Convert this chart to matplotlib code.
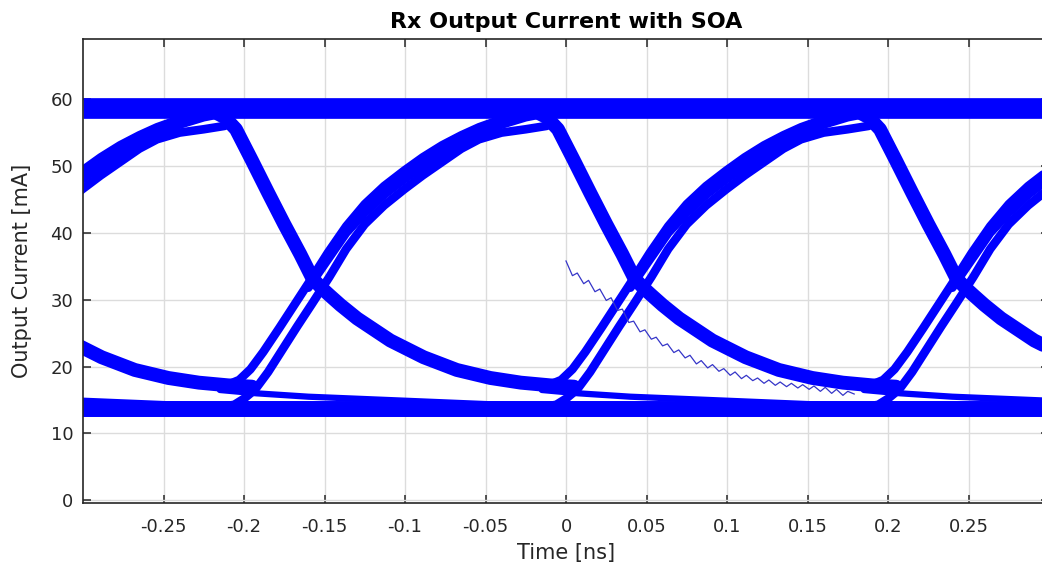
import numpy as np
import matplotlib
matplotlib.use("Agg")
import matplotlib.pyplot as plt

# eye diagram, one bit period (frame: crossing near 0.043 ns)
period_offsets = [-0.4, -0.2, 0.0, 0.2, 0.4]

top_level = 58.65
bottom_level = 13.65

# falling edge: top rail -> crossing -> slow tail
fall_t = [-0.035, -0.020, -0.012, -0.005, 0.005, 0.015, 0.025, 0.035, 0.0425,
          0.048, 0.053, 0.060, 0.0703, 0.0909, 0.1116, 0.1322, 0.153, 0.172, 0.190, 0.205]
fall_y = [58.6, 58.3, 57.3, 55.5, 50.8, 46.0, 41.3, 36.8, 33.2,
          31.8, 30.7, 29.2, 27.2, 23.9, 21.4, 19.5, 18.3, 17.6, 17.2, 17.0]

# tail that keeps decaying into the zero rail (two zeros in a row)
decay_t = [-0.015, 0.008, 0.040, 0.070, 0.100, 0.130, 0.160, 0.200]
decay_y = [16.5, 16.0, 15.5, 15.2, 14.9, 14.6, 14.3, 14.0]

# rising edge starting from the partly decayed tail
riseA_t = [-0.028, -0.020, -0.010, -0.003, 0.004, 0.012, 0.022, 0.032, 0.042, 0.052,
           0.0635, 0.075, 0.087, 0.0994, 0.111, 0.123, 0.135, 0.146, 0.160, 0.175, 0.190]
riseA_y = [17.6, 17.3, 17.3, 18.0, 19.6, 22.2, 25.8, 29.5, 33.2, 37.0,
           41.0, 44.3, 47.0, 49.3, 51.3, 53.1, 54.6, 55.8, 57.0, 57.9, 58.4]

# middle of the rising bundle above the crossing
riseM_t = [0.040, 0.050, 0.0635, 0.075, 0.087, 0.0994, 0.111, 0.123, 0.135, 0.146, 0.160, 0.175, 0.190]
riseM_y = [31.8, 35.3, 40.0, 43.0, 45.7, 48.0, 50.0, 51.8, 53.4, 54.8, 56.2, 57.3, 58.0]

# rising edge starting from the zero rail
riseB_t = [-0.030, -0.015, -0.006, 0.000, 0.007, 0.015, 0.024, 0.033, 0.042, 0.053,
           0.0635, 0.075, 0.087, 0.0994, 0.111, 0.123, 0.135, 0.146, 0.160, 0.175, 0.188]
riseB_y = [13.7, 13.9, 14.3, 15.2, 16.6, 19.2, 22.6, 26.0, 29.3, 33.4,
           37.6, 41.3, 44.1, 46.5, 48.6, 50.6, 52.6, 54.0, 55.0, 55.5, 56.0]

# the single thin wiggly trace
wiggle_t = [0.000, 0.004, 0.007, 0.011, 0.014, 0.018, 0.021, 0.025, 0.028, 0.032,
            0.035, 0.039, 0.042, 0.046, 0.049, 0.053, 0.056, 0.060, 0.063, 0.067,
            0.070, 0.074, 0.077, 0.081, 0.084, 0.088, 0.091, 0.095, 0.098, 0.102,
            0.105, 0.109, 0.112, 0.116, 0.119, 0.123, 0.126, 0.130, 0.133, 0.137,
            0.140, 0.144, 0.147, 0.151, 0.154, 0.158, 0.161, 0.165, 0.168, 0.172,
            0.175, 0.179]
wiggle_y = [35.8, 33.6, 34.0, 32.4, 32.9, 31.2, 31.6, 29.9, 30.3, 28.4,
            28.6, 26.6, 26.8, 25.2, 25.5, 24.1, 24.4, 23.1, 23.4, 22.1,
            22.5, 21.3, 21.7, 20.4, 20.9, 19.8, 20.3, 19.3, 19.7, 18.7,
            19.2, 18.2, 18.7, 17.9, 18.3, 17.5, 18.0, 17.2, 17.7, 17.0,
            17.5, 16.8, 17.3, 16.6, 17.1, 16.3, 16.9, 16.0, 16.6, 15.7,
            16.3, 15.9]

xticks = [-0.25, -0.2, -0.15, -0.1, -0.05, 0, 0.05, 0.1, 0.15, 0.2, 0.25]
xticklabels = ["-0.25", "-0.2", "-0.15", "-0.1", "-0.05", "0", "0.05", "0.1", "0.15", "0.2", "0.25"]
yticks = [0, 10, 20, 30, 40, 50, 60]

blue = "#0000ff"
dark = "#262626"

plt.rcParams["axes.unicode_minus"] = False
plt.rcParams["font.family"] = ["DejaVu Sans"]

fig = plt.figure(figsize=(10.42, 5.71), dpi=100)
ax = fig.add_axes([83 / 1042, 68 / 571, 966 / 1042, 464 / 571])

ax.axhline(top_level, color=blue, lw=14.9, solid_capstyle="butt", zorder=2)
ax.axhline(bottom_level, color=blue, lw=11.5, solid_capstyle="butt", zorder=2)

line_kw = dict(color=blue, solid_joinstyle="round", solid_capstyle="round", zorder=2)
for k in period_offsets:
    ax.plot(np.asarray(fall_t) + k, fall_y, lw=10, **line_kw)
    ax.plot(np.asarray(decay_t) + k, decay_y, lw=4.5, **line_kw)
    ax.plot(np.asarray(riseA_t) + k, riseA_y, lw=6.2, **line_kw)
    ax.plot(np.asarray(riseM_t) + k, riseM_y, lw=6.2, **line_kw)
    ax.plot(np.asarray(riseB_t) + k, riseB_y, lw=6.2, **line_kw)

ax.plot(wiggle_t, wiggle_y, color="#3535c8", lw=0.9, zorder=3)

ax.set_xlim(-0.3, 0.3)
ax.set_ylim(-0.4, 69)
ax.set_xticks(xticks)
ax.set_xticklabels(xticklabels)
ax.set_yticks(yticks)

ax.grid(True, color="#dcdcdc", lw=1.0)
ax.set_axisbelow(True)
for side in ["left", "top", "bottom", "right"]:
    ax.spines[side].set_color(dark)
    ax.spines[side].set_linewidth(1.2)
ax.tick_params(direction="in", top=True, right=True, length=6, width=1.1,
               color=dark, labelcolor=dark, labelsize=13)
ax.tick_params(axis="x", pad=11)
ax.tick_params(axis="y", pad=7)

ax.set_title("Rx Output Current with SOA", fontsize=16, fontweight="bold",
             color="black", pad=8)
ax.set_xlabel("Time [ns]", fontsize=15, color=dark, labelpad=5)
ax.set_ylabel("Output Current [mA]", fontsize=15, color=dark, labelpad=13)

fig.savefig("out.png", dpi=100)
